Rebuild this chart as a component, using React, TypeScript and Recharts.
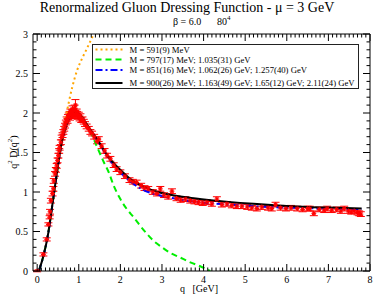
import React from 'react';
import { ComposedChart, Line, Scatter, XAxis, YAxis, ErrorBar, Legend } from 'recharts';

const W = 374;
const H = 295;
const FONT = '"Liberation Serif", "Times New Roman", serif';

// ---- series metadata ----
const seriesNames = [
  'M = 591(9) MeV',
  'M = 797(17) MeV; 1.035(31) GeV',
  'M = 851(16) MeV; 1.062(26) GeV; 1.257(40) GeV',
  'M = 900(26) MeV; 1.163(49) GeV; 1.65(12) GeV; 2.11(24) GeV',
];
const seriesColors = ['#FFA500', '#00EE00', '#0000FF', '#000000'];
const seriesDash = ['2 3', '6 4', '7 3 2 3', ''];
const seriesWidth = [2, 2, 2, 2];

// ---- model curves ----
const orangeQ = [0.04, 0.15, 0.27, 0.35, 0.43, 0.51, 0.59, 0.7, 0.84, 0.96, 1.08, 1.2, 1.36];
const orangeV = [0, 0.2, 0.5, 0.8, 1.1, 1.4, 1.68, 1.98, 2.32, 2.54, 2.69, 2.82, 3.0];

const greenQ = [0.04, 0.15, 0.27, 0.35, 0.43, 0.51, 0.59, 0.71, 0.8, 0.9, 1.0, 1.1, 1.25, 1.44, 1.6, 1.72, 1.84, 2.0, 2.16, 2.32, 2.48, 2.64, 2.8, 3.0, 3.2, 3.44, 3.68, 3.92, 4.16];
const greenV = [0, 0.19, 0.49, 0.78, 1.08, 1.37, 1.63, 1.86, 1.97, 2.01, 1.99, 1.93, 1.8, 1.57, 1.38, 1.25, 1.08, 0.91, 0.78, 0.68, 0.57, 0.47, 0.38, 0.3, 0.23, 0.17, 0.11, 0.06, 0];

const blueQ = [0.04, 0.15, 0.27, 0.35, 0.43, 0.51, 0.59, 0.71, 0.8, 0.9, 1.0, 1.1, 1.25, 1.44, 1.7, 2.0, 2.25, 2.5, 3.0, 3.5, 4.0, 4.6, 5.2, 5.8, 6.5, 7.2, 7.8];
const blueV = [0, 0.19, 0.49, 0.78, 1.08, 1.37, 1.63, 1.86, 1.97, 2.01, 1.99, 1.93, 1.8, 1.66, 1.44, 1.25, 1.13, 1.04, 0.95, 0.9, 0.865, 0.84, 0.82, 0.805, 0.795, 0.788, 0.783];

const blackQ = [0.04, 0.15, 0.27, 0.35, 0.43, 0.51, 0.59, 0.71, 0.8, 0.9, 1.0, 1.1, 1.25, 1.44, 1.7, 2.0, 2.25, 2.5, 2.9, 3.3, 3.7, 4.3, 4.6, 5.2, 5.8, 6.5, 7.2, 7.8];
const blackV = [0, 0.19, 0.49, 0.78, 1.08, 1.37, 1.63, 1.86, 1.97, 2.01, 1.99, 1.93, 1.81, 1.67, 1.45, 1.28, 1.16, 1.08, 1.0, 0.955, 0.925, 0.89, 0.875, 0.85, 0.83, 0.81, 0.8, 0.792];

// ---- lattice data ----
const dataQ = [
  0.0, 0.15, 0.23, 0.27, 0.3, 0.31, 0.33, 0.37, 0.39, 0.4, 0.43, 0.45, 0.47, 0.49, 0.51, 0.53, 0.54, 0.57, 0.59, 0.61,
  0.63, 0.65, 0.67, 0.69, 0.71, 0.73, 0.74, 0.76, 0.78, 0.79, 0.8, 0.82, 0.84, 0.85, 0.86, 0.88, 0.89, 0.9, 0.92, 0.93,
  0.95, 0.96, 0.98, 1.0, 1.02, 1.04, 1.06, 1.09, 1.12, 1.15, 1.19, 1.24, 1.28, 1.32, 1.37, 1.44, 1.48, 1.55, 1.62, 1.68,
  1.76, 1.84, 1.91, 2.0, 2.11, 2.22, 2.3, 2.39, 2.5, 2.58, 2.67, 2.78, 2.88, 2.96, 3.05, 3.15, 3.24, 3.35, 3.45, 3.56,
  3.68, 3.78, 3.88, 3.98, 4.08, 4.2, 4.32, 4.44, 4.56, 4.68, 4.8, 4.92, 5.05, 5.16, 5.28, 5.4, 5.55, 5.64, 5.73, 5.85,
  5.98, 6.1, 6.25, 6.38, 6.5, 6.55, 6.65, 6.78, 6.9, 6.97, 7.08, 7.2, 7.3, 7.38, 7.48, 7.55, 7.62, 7.7, 7.74, 7.78,
];
const dataD = [
  0.0, 0.21, 0.4, 0.59, 0.68, 0.75, 0.89, 0.98, 1.04, 1.14, 1.23, 1.28, 1.33, 1.4, 1.46, 1.52, 1.56, 1.63, 1.69, 1.72,
  1.76, 1.8, 1.84, 1.88, 1.92, 1.9, 1.95, 1.97, 1.99, 1.94, 2.02, 1.98, 2.01, 2.05, 1.96, 2.03, 1.99, 2.06, 2.1, 1.97,
  2.02, 1.99, 1.95, 1.98, 1.93, 1.96, 1.91, 1.92, 1.89, 1.86, 1.83, 1.8, 1.76, 1.74, 1.7, 1.64, 1.67, 1.58, 1.52, 1.46,
  1.42, 1.34, 1.29, 1.25, 1.2, 1.15, 1.13, 1.12, 1.08, 1.05, 1.04, 1.0, 0.98, 1.04, 0.96, 0.94, 1.01, 0.92, 0.9, 0.91,
  0.89, 0.88, 0.87, 0.86, 0.87, 0.85, 0.91, 0.84, 0.85, 0.83, 0.82, 0.82, 0.81, 0.8, 0.79, 0.81, 0.8, 0.79, 0.84, 0.8,
  0.79, 0.8, 0.79, 0.78, 0.79, 0.79, 0.73, 0.78, 0.77, 0.79, 0.77, 0.78, 0.76, 0.79, 0.76, 0.75, 0.76, 0.74, 0.73, 0.72,
];
const dataErr = [
  0.01, 0.02, 0.02, 0.02, 0.02, 0.03, 0.03, 0.03, 0.03, 0.03, 0.03, 0.03, 0.03, 0.03, 0.03, 0.03, 0.03, 0.03, 0.03, 0.03,
  0.03, 0.03, 0.03, 0.03, 0.03, 0.03, 0.03, 0.03, 0.03, 0.03, 0.03, 0.03, 0.03, 0.04, 0.03, 0.03, 0.03, 0.04, 0.07, 0.03,
  0.03, 0.03, 0.03, 0.03, 0.03, 0.03, 0.03, 0.03, 0.03, 0.03, 0.03, 0.03, 0.03, 0.03, 0.03, 0.03, 0.03, 0.03, 0.03, 0.03,
  0.03, 0.03, 0.03, 0.03, 0.03, 0.03, 0.03, 0.03, 0.03, 0.03, 0.03, 0.03, 0.03, 0.03, 0.03, 0.03, 0.03, 0.03, 0.03, 0.03,
  0.03, 0.03, 0.03, 0.03, 0.03, 0.03, 0.03, 0.03, 0.03, 0.03, 0.03, 0.03, 0.03, 0.03, 0.03, 0.03, 0.03, 0.03, 0.03, 0.03,
  0.03, 0.03, 0.03, 0.03, 0.03, 0.03, 0.03, 0.03, 0.03, 0.03, 0.03, 0.03, 0.03, 0.03, 0.03, 0.03, 0.03, 0.03, 0.03, 0.03,
];

// ---- axis ticks ----
const xTicks = Array.from({ length: 81 }, (_, i) => i / 10);
const yTicks = Array.from({ length: 31 }, (_, i) => i / 10);
const xMajorLabels = ['0', '1', '2', '3', '4', '5', '6', '7', '8'];
const yMajorLabels = ['0', '0.5', '1', '1.5', '2', '2.5', '3'];

const curves = [
  { q: orangeQ, v: orangeV },
  { q: greenQ, v: greenV },
  { q: blueQ, v: blueV },
  { q: blackQ, v: blackV },
].map((c) => c.q.map((q, i) => ({ q, v: c.v[i] })));

const points = dataQ.map((q, i) => ({ q, D: dataD[i], err: dataErr[i] }));

const isMajor = (v: number, step: number) => Math.abs(v / step - Math.round(v / step)) < 1e-6;

const BottomTick = (p: any) => {
  const v = p.payload.value;
  const major = isMajor(v, 1);
  return (
    <g>
      <line x1={p.x} x2={p.x} y1={p.y} y2={p.y - (major ? 7 : 3.5)} stroke="#000" strokeWidth={1} />
      {major && (
        <text x={p.x} y={p.y + 11.5} textAnchor="middle" fontSize={10} fontFamily={FONT} fill="#000">
          {xMajorLabels[Math.round(v)]}
        </text>
      )}
    </g>
  );
};
const TopTick = (p: any) => {
  const v = p.payload.value;
  const major = isMajor(v, 1);
  return <line x1={p.x} x2={p.x} y1={p.y} y2={p.y + (major ? 7 : 3.5)} stroke="#000" strokeWidth={1} />;
};
const LeftTick = (p: any) => {
  const v = p.payload.value;
  const major = isMajor(v, 0.5);
  return (
    <g>
      <line x1={p.x} x2={p.x + (major ? 7 : 3.5)} y1={p.y} y2={p.y} stroke="#000" strokeWidth={1} />
      {major && (
        <text x={p.x - 5} y={p.y + 3.5} textAnchor="end" fontSize={10} fontFamily={FONT} fill="#000">
          {yMajorLabels[Math.round(v * 2)]}
        </text>
      )}
    </g>
  );
};
const RightTick = (p: any) => {
  const v = p.payload.value;
  const major = isMajor(v, 0.5);
  return <line x1={p.x} x2={p.x - (major ? 7 : 3.5)} y1={p.y} y2={p.y} stroke="#000" strokeWidth={1} />;
};

const Star = (p: any) => {
  const { cx, cy } = p;
  if (cx == null || cy == null) return null;
  const r = 2.4;
  return (
    <g stroke="#FF0000" strokeWidth={1.1}>
      <line x1={cx - r} x2={cx + r} y1={cy} y2={cy} />
      <line x1={cx} x2={cx} y1={cy - r} y2={cy + r} />
      <line x1={cx - r * 0.7} x2={cx + r * 0.7} y1={cy - r * 0.7} y2={cy + r * 0.7} />
      <line x1={cx - r * 0.7} x2={cx + r * 0.7} y1={cy + r * 0.7} y2={cy - r * 0.7} />
    </g>
  );
};

const rowY = [5.5, 15.5, 26, 39];

const LegendBox = (props: any) => {
  const payload = (props.payload || []).filter((e: any) => seriesNames.includes(e.value));
  return (
    <svg width={268} height={46} style={{ display: 'block' }}>
      <rect x={0.5} y={0.5} width={266} height={44} fill="#fff" stroke="#222" strokeWidth={1} />
      {payload.map((e: any) => {
        const i = seriesNames.indexOf(e.value);
        return (
          <g key={e.value}>
            <line
              x1={3.5}
              x2={30.5}
              y1={rowY[i]}
              y2={rowY[i]}
              stroke={seriesColors[i]}
              strokeWidth={seriesWidth[i]}
              strokeDasharray={seriesDash[i] || undefined}
            />
            <text x={37.5} y={rowY[i] + 3} fontSize={8.7} fontFamily={FONT} fill="#000">
              {e.value}
            </text>
          </g>
        );
      })}
    </svg>
  );
};

const axisLine = { stroke: '#000', strokeWidth: 1 };

export default function App() {
  return (
    <div style={{ position: 'absolute', left: 0, top: 0, width: W, height: H, background: '#fff', fontFamily: FONT }}>
      <ComposedChart
        width={W}
        height={H}
        margin={{ top: 33, right: 3, bottom: 23, left: 32 }}
      >
        <XAxis
          xAxisId="b"
          type="number"
          dataKey="q"
          domain={[-0.1, 8]}
          ticks={xTicks}
          interval={0}
          height={1}
          tickSize={0}
          tickMargin={0}
          tickLine={false}
          tick={<BottomTick />}
          axisLine={axisLine}
          allowDataOverflow
        />
        <XAxis
          xAxisId="t"
          orientation="top"
          type="number"
          dataKey="q"
          domain={[-0.1, 8]}
          ticks={xTicks}
          interval={0}
          height={1}
          tickSize={0}
          tickMargin={0}
          tickLine={false}
          tick={<TopTick />}
          axisLine={axisLine}
          allowDataOverflow
        />
        <YAxis
          yAxisId="l"
          type="number"
          domain={[0, 3]}
          ticks={yTicks}
          interval={0}
          width={1}
          tickSize={0}
          tickMargin={0}
          tickLine={false}
          tick={<LeftTick />}
          axisLine={axisLine}
          allowDataOverflow
        />
        <YAxis
          yAxisId="r"
          orientation="right"
          type="number"
          domain={[0, 3]}
          ticks={yTicks}
          interval={0}
          width={1}
          tickSize={0}
          tickMargin={0}
          tickLine={false}
          tick={<RightTick />}
          axisLine={axisLine}
          allowDataOverflow
        />
        <Scatter
          xAxisId="b"
          yAxisId="l"
          name="data"
          data={points}
          dataKey="D"
          shape={<Star />}
          legendType="none"
          isAnimationActive={false}
        >
          <ErrorBar dataKey="err" direction="y" width={4} stroke="#FF0000" strokeWidth={1} isAnimationActive={false} />
        </Scatter>
        {curves.map((data, i) => (
          <Line
            key={seriesNames[i]}
            xAxisId="b"
            yAxisId="l"
            name={seriesNames[i]}
            data={data}
            dataKey="v"
            type="monotone"
            stroke={seriesColors[i]}
            strokeWidth={seriesWidth[i]}
            strokeDasharray={seriesDash[i] || undefined}
            dot={false}
            activeDot={false}
            isAnimationActive={false}
          />
        ))}
        <Legend
          layout="horizontal"
          verticalAlign="middle"
          align="center"
          content={<LegendBox />}
          wrapperStyle={{ left: 92, top: 44, width: 268, height: 46 }}
        />
      </ComposedChart>
      <div style={{ position: 'absolute', left: 0, top: 0, width: W, textAlign: 'center', fontSize: 14, lineHeight: '16px', color: '#000', whiteSpace: 'nowrap' }}>
        Renormalized Gluon Dressing Function - μ = 3 GeV
      </div>
      <div style={{ position: 'absolute', left: 173, top: 16, fontSize: 10, lineHeight: '12px', whiteSpace: 'nowrap' }}>
        β = 6.0
      </div>
      <div style={{ position: 'absolute', left: 217, top: 16, fontSize: 10, lineHeight: '12px', whiteSpace: 'nowrap' }}>
        80<sup style={{ fontSize: 7, verticalAlign: 'top', position: 'relative', top: -4 }}>4</sup>
      </div>
      <div
        style={{
          position: 'absolute',
          left: 12,
          top: 152,
          fontSize: 10,
          lineHeight: '12px',
          whiteSpace: 'nowrap',
          transform: 'translate(-50%, -50%) rotate(-90deg)',
        }}
      >
        q<sup style={{ fontSize: 7 }}>2</sup> D(q<sup style={{ fontSize: 7 }}>2</sup>)
      </div>
      <div style={{ position: 'absolute', left: 180, top: 283, fontSize: 10, lineHeight: '12px', whiteSpace: 'pre' }}>
        {'q   [GeV]'}
      </div>
    </div>
  );
}
